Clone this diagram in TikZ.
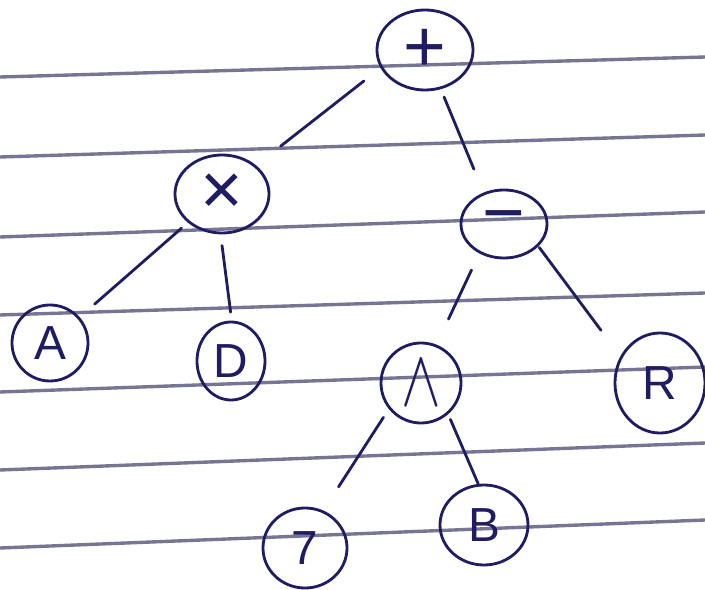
\documentclass[tikz,border=0pt]{standalone}
\usepackage{fontspec}
\setsansfont{Liberation Sans}
\usetikzlibrary{shapes.geometric, positioning}
\definecolor{inkcolor}{RGB}{32,28,100}
\definecolor{rulecolor}{RGB}{118,118,148}

\begin{document}
\begin{tikzpicture}[
    x=0.025cm, y=-0.025cm,
    opnode/.style={ellipse, draw=inkcolor, line width=2pt, inner sep=0pt, text=inkcolor, font=\fontsize{34}{36}\selectfont\sffamily},
    bigsym/.style={font=\fontsize{52}{54}\selectfont\sffamily},
    edge/.style={draw=inkcolor, line width=2pt, line cap=round},
    ruleline/.style={draw=rulecolor, line width=2.4pt}
]
\fill[white] (0,0) rectangle (705,590);
\useasboundingbox (0,0) rectangle (705,590);
\foreach \yl/\yr in {77/57, 157/135, 237/212, 315/293, 392/367, 470/443, 548/520}
    \draw[ruleline] (0,\yl) -- (705,\yr);

\node[opnode, bigsym, minimum width=2.4cm, minimum height=2cm] (plus) at (425,50) {+};
\node[opnode, bigsym, minimum width=2.35cm, minimum height=1.95cm] (times) at (222,194) {×};
\node[opnode, bigsym, minimum width=2.15cm, minimum height=1.7cm] (minus) at (504,224) {−};
\node[opnode, minimum width=1.9cm, minimum height=1.9cm] (leafa) at (50,343) {A};
\node[opnode, minimum width=1.7cm, minimum height=1.95cm] (leafd) at (231,361) {D};
\node[opnode, minimum width=2cm, minimum height=2cm] (wedge) at (421,383) {\scalebox{1.7}[2.3]{$\wedge$}};
\node[opnode, minimum width=2.25cm, minimum height=2.5cm] (leafr) at (660,383) {R};
\node[opnode, minimum width=2.1cm, minimum height=2cm] (seven) at (305,548) {7};
\node[opnode, minimum width=2.2cm, minimum height=2cm] (leafb) at (484,525) {B};

\draw[edge, shorten <=15pt, shorten >=22pt] (plus.202) -- (times.40);
\draw[edge, shorten <=6pt, shorten >=18pt] (plus.292) -- (minus.123);
\draw[edge, shorten <=6pt, shorten >=14pt] (times.220) -- (leafa.41);
\draw[edge, shorten <=8pt, shorten >=6pt] (times.268) -- (leafd.89);
\draw[edge, shorten <=13pt, shorten >=20pt] (minus.230) -- (wedge.68);
\draw[edge, shorten <=1pt, shorten >=23pt] (minus.327) -- (leafr.146);
\draw[edge, shorten <=7pt, shorten >=20pt] (wedge.219) -- (seven.64);
\draw[edge, shorten <=4pt] (wedge.311) -- (leafb.98);
\end{tikzpicture}
\end{document}
